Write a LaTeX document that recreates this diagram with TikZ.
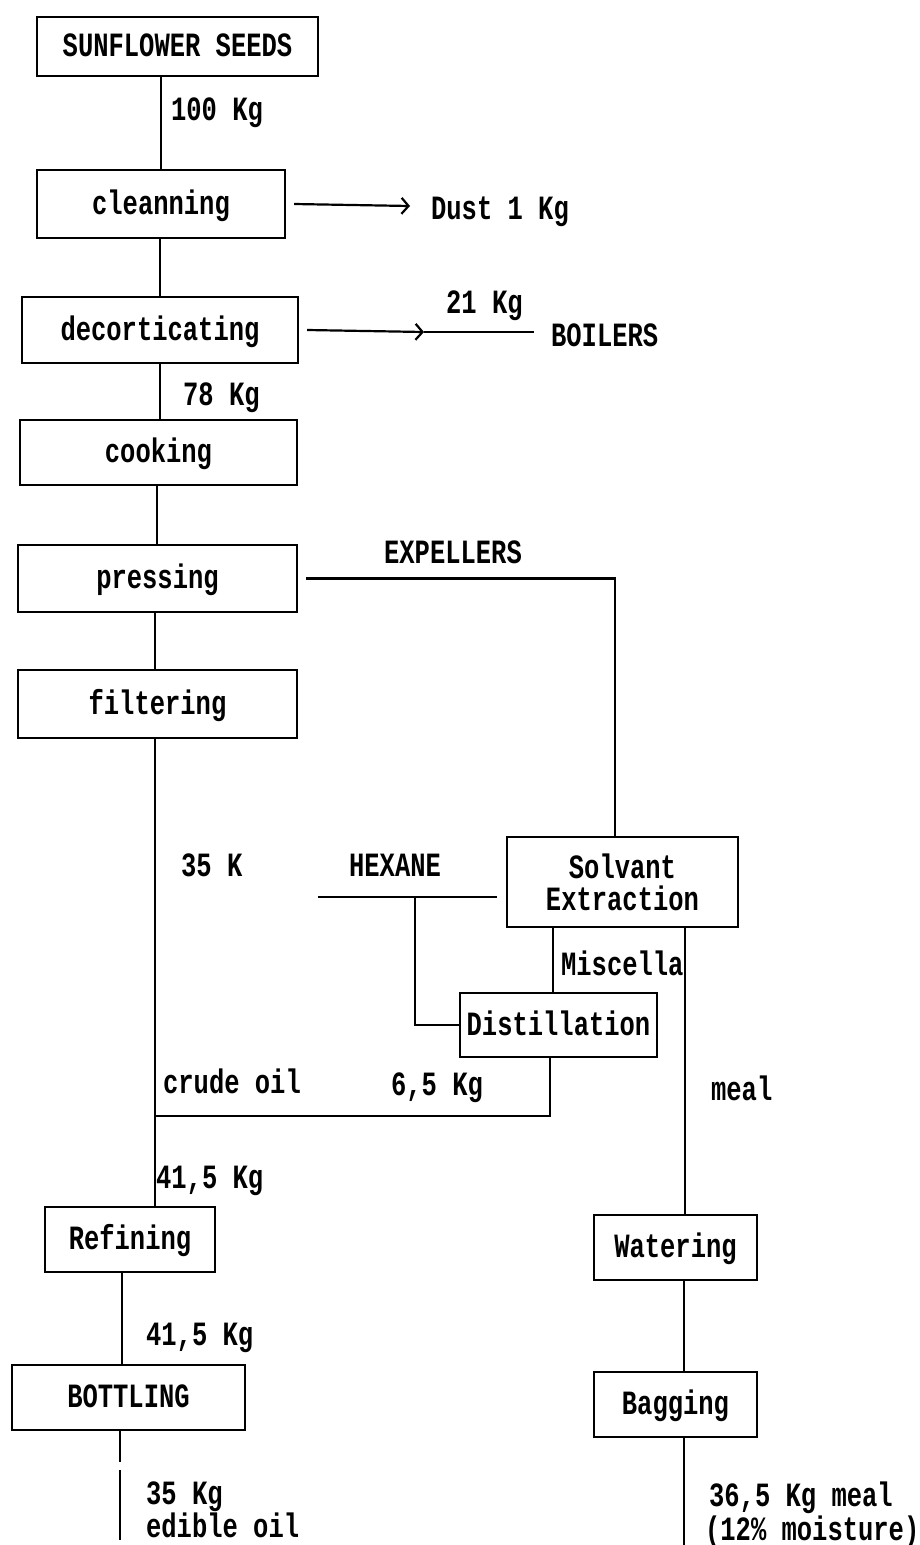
\documentclass[tikz,border=0pt]{standalone}
\usepackage{fontspec}
\usetikzlibrary{arrows.meta}
\newfontfamily\tw[FakeStretch=0.75]{Liberation Mono}
\begin{document}
\begin{tikzpicture}[x=1pt,y=-1pt,
  line width=2.2pt,
  every node/.style={font=\tw\bfseries\fontsize{34}{32}\selectfont},
  frame/.style={draw,rectangle,inner sep=0pt},
  box/.style={frame,text height=20pt,text depth=0pt},
  lbl/.style={anchor=base west,inner sep=0pt},
  chev/.style={-{Straight Barb[length=7pt,width=16pt,line width=2.2pt]}}]
\useasboundingbox (0,0) rectangle (920,1545);

% process boxes
\node[box,minimum width=281pt,minimum height=59pt] (seeds) at (177.5,46.5) {SUNFLOWER SEEDS};
\node[box,minimum width=248pt,minimum height=68pt] (clean) at (161,204) {cleanning};
\node[box,minimum width=276pt,minimum height=66pt] (decort) at (160,330) {decorticating};
\node[box,minimum width=277pt,minimum height=65pt] (cook) at (158.5,452.5) {cooking};
\node[box,minimum width=279pt,minimum height=67pt] (press) at (157.5,578.5) {pressing};
\node[box,minimum width=279pt,minimum height=68pt] (filt) at (157.5,704) {filtering};
\node[frame,minimum width=231pt,minimum height=90pt,align=center] (solv) at (622.5,882) {Solvant\\Extraction};
\node[box,minimum width=197pt,minimum height=64pt] (dist) at (558.5,1025) {Distillation};
\node[box,minimum width=170pt,minimum height=65pt] (refine) at (130,1239.5) {Refining};
\node[box,minimum width=233pt,minimum height=65pt] (bottle) at (128.5,1397.5) {BOTTLING};
\node[box,minimum width=163pt,minimum height=65pt] (water) at (675.5,1247.5) {Watering};
\node[box,minimum width=163pt,minimum height=65pt] (bag) at (675.5,1404.5) {Bagging};

% free ends and junctions
\coordinate (dustTip) at (410,206);
\coordinate (bTip) at (424,332);
\coordinate (bEnd) at (534,332);
\coordinate (hexL) at (318,897);
\coordinate (hexT) at (415,897);
\coordinate (hexR) at (497,897);
\coordinate (join) at (155,1116);
\coordinate (oilA) at (120,1462);
\coordinate (oilB) at (120,1470);
\coordinate (oilEnd) at (120,1540);
\coordinate (mealEnd) at (684,1545);

% main oil line
\draw ([xshift=-16.5pt]seeds.south) -- (clean.north);
\draw ([xshift=-1pt]clean.south) -- (decort.north);
\draw (decort.south) -- ([xshift=1.5pt]cook.north);
\draw ([xshift=-1.5pt]cook.south) -- ([xshift=-0.5pt]press.north);
\draw ([xshift=-2.5pt]press.south) -- ([xshift=-2.5pt]filt.north);
\draw ([xshift=-2.5pt]filt.south) -- (join) -- ([xshift=25pt]refine.north);
\draw ([xshift=-8pt]refine.south) -- ([xshift=-6.5pt]bottle.north);
\draw ([xshift=-8.5pt]bottle.south) -- (oilA);
\draw (oilB) -- (oilEnd);

% side streams
\draw[chev] ([xshift=8pt]clean.east) -- (dustTip);
\draw[chev] ([xshift=8pt]decort.east) -- (bTip);
\draw (bTip) -- (bEnd);

% expellers to extraction
\draw ([xshift=8pt]press.east) -| ([xshift=-7.5pt]solv.north);
\draw (hexL) -- (hexR);
\draw (hexT) |- (dist.west);
\draw ([xshift=-69.5pt]solv.south) -- ([xshift=-5.5pt]dist.north);
\draw ([xshift=-8.5pt]dist.south) |- (join);

% meal line
\draw ([xshift=62.5pt]solv.south) -- ([xshift=9.5pt]water.north);
\draw ([xshift=8.5pt]water.south) -- ([xshift=8.5pt]bag.north);
\draw ([xshift=8.5pt]bag.south) -- (mealEnd);

% quantities and labels
\node[lbl] (l100) at (170,120) {100 Kg};
\node[lbl] (ldust) at (430,219) {Dust 1 Kg};
\node[lbl] (l21) at (445,313) {21 Kg};
\node[lbl] (lboil) at (550,346) {BOILERS};
\node[lbl] (l78) at (182,405) {78 Kg};
\node[lbl] (lexp) at (383,563) {EXPELLERS};
\node[lbl] (l35k) at (180,876) {35 K};
\node[lbl] (lhex) at (348,876) {HEXANE};
\node[lbl] (lmis) at (560,975) {Miscella};
\node[lbl] (lcrude) at (162,1093) {crude oil};
\node[lbl] (l65) at (390,1095) {6,5 Kg};
\node[lbl] (lmeal) at (710,1100) {meal};
\node[lbl] (l415a) at (155,1188) {41,5 Kg};
\node[lbl] (l415b) at (145,1345) {41,5 Kg};
\node[lbl] (l35) at (145,1504) {35 Kg};
\node[lbl] (ledible) at (145,1537) {edible oil};
\node[lbl] (l365) at (708,1506) {36,5 Kg meal};
\node[lbl] (lmoist) at (704,1540) {(12\% moisture)};
\end{tikzpicture}
\end{document}
